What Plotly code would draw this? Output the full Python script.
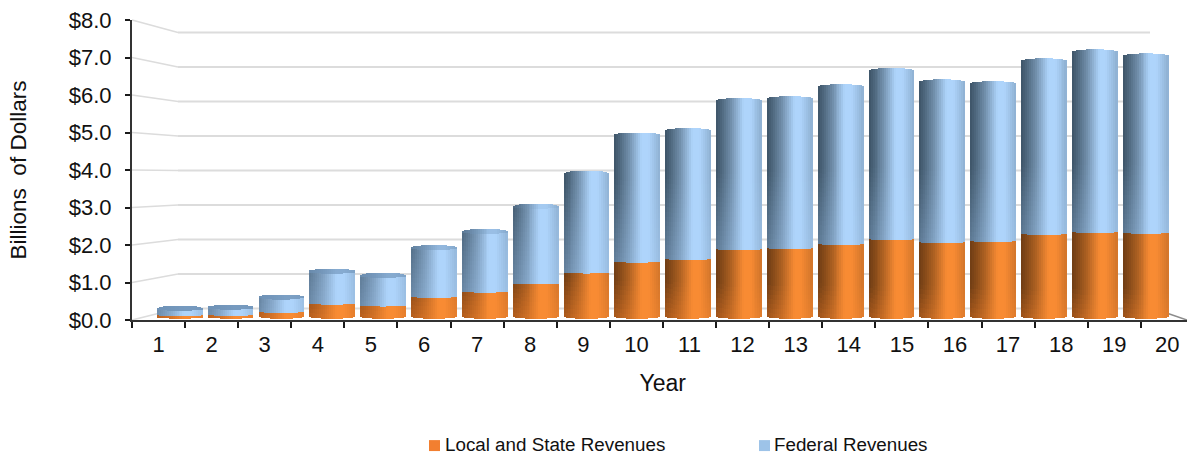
import numpy as np
import plotly.graph_objects as go

years = [str(i) for i in range(1, 21)]
y_ticks = [0, 1, 2, 3, 4, 5, 6, 7, 8]
y_labels = ["$0.0", "$1.0", "$2.0", "$3.0", "$4.0", "$5.0", "$6.0", "$7.0", "$8.0"]
local_state = [.13, .14, .22, .44, .39, .62, .76, .98, 1.27, 1.56, 1.63, 1.89, 1.92, 2.03, 2.16, 2.08, 2.11, 2.30, 2.35, 2.33]
federal = [.25, .27, .46, .93, .87, 1.38, 1.67, 2.12, 2.71, 3.44, 3.49, 4.03, 4.05, 4.26, 4.56, 4.34, 4.26, 4.68, 4.87, 4.78]

W, H = 1187, 456
L, R, T, B = 132, 1187, 19.5, 320.5
def px(x): return (x - L) / (R - L)
def py(y): return (B - y) / (B - T)
FONT = "Liberation Sans, Arial, sans-serif"
INK = "#111111"

# cylinder look, built as thin bar strips
N_STRIP = 23
BAND = 0.13
BAR_W = 0.89
u = (np.arange(N_STRIP) + .5) / N_STRIP
arc = np.sqrt(np.clip(1 - (2 * u - 1) ** 2, 0, 1))
shade = np.interp(u, [0, .12, .32, .6, .75, 1], [0, .15, .45, 1, 1, .72])

def hexcol(c):
    return "#%02x%02x%02x" % tuple(int(round(v)) for v in np.clip(c, 0, 255))

def rgb(h):
    return np.array([int(h[i:i + 2], 16) for i in (1, 3, 5)], float)

def series(lo_vals, hi_vals, light, dark0, dark1, ref, lo_e, hi_e, cap=None):
    xs, ys, bases, offs, cols = [], [], [], [], []
    light, dark0, dark1 = rgb(light), rgb(dark0), rgb(dark1)
    for i, (lo, hi) in enumerate(zip(lo_vals, hi_vals)):
        for j in range(N_STRIP):
            a = lo - lo_e[0] * arc[j] + lo_e[1]
            b = hi - hi_e - hi_e * arc[j] if cap is not None else hi - hi_e * arc[j]
            off = -BAR_W / 2 + j * BAR_W / N_STRIP
            n = max(1, int(np.ceil((b - a) / BAND)))
            edges = np.linspace(a, b, n + 1)
            c = dark0 + (light - dark0) * shade[j]
            for k in range(n):
                d = min(1, .12 + (edges[k] - a) / ref + (hi - lo) / (ref * 3.5))
                dark = dark0 + (dark1 - dark0) * d
                c = dark + (light - dark) * shade[j]
                xs.append(i + 1); bases.append(edges[k]); ys.append(edges[k + 1] - edges[k])
                offs.append(off); cols.append(hexcol(c))
            if cap is not None:
                xs.append(i + 1); bases.append(b); ys.append(2 * hi_e * arc[j] + 1e-4)
                offs.append(off)
                s = max(0, 1 - (hi - lo) / 2.5)
                cols.append(hexcol(rgb(cap) * s + c * (1 - s)))
    return xs, ys, bases, offs, cols

total = [a + b for a, b in zip(local_state, federal)]
ox = series([0] * 20, local_state, "#f88b33", "#c9671f", "#6f3d14", 1.6, (.07, .10), .03)
bx = series(local_state, total, "#aed4fb", "#7595b6", "#3d5467", 3.6, (.03, 0), .07, cap="#6f93b8")

fig = go.Figure()
# main category axis, carries the year labels
fig.add_trace(go.Scatter(x=years, y=[0] * 20, mode="markers", marker=dict(opacity=0, size=1),
                         showlegend=False, hoverinfo="skip", xaxis="x", yaxis="y"))
for name, d in (("Local and State Revenues", ox), ("Federal Revenues", bx)):
    fig.add_trace(go.Bar(name=name, x=d[0], y=d[1], base=d[2], offset=d[3],
                         width=BAR_W / N_STRIP, marker=dict(color=d[4], line=dict(width=0)),
                         showlegend=False, hoverinfo="skip", xaxis="x2", yaxis="y"))

# back wall and floor
shapes = []
WALL_L, WALL_R = 178, 1150
def wall_y(v): return 309 - v * 34.63
def tick_y(v): return B - v * (B - T) / 8
for v in y_ticks:
    col = "#dcdcdc"
    shapes.append(dict(type="line", xref="paper", yref="paper", layer="below",
                       x0=px(WALL_L), x1=px(WALL_R), y0=py(wall_y(v)), y1=py(wall_y(v)),
                       line=dict(color=col, width=2)))
    shapes.append(dict(type="line", xref="paper", yref="paper", layer="below",
                       x0=px(L), x1=px(WALL_L), y0=py(tick_y(v)), y1=py(wall_y(v)),
                       line=dict(color=col, width=1.5)))
shapes.append(dict(type="line", xref="paper", yref="paper", layer="below",
                   x0=px(1168), x1=px(1187), y0=py(314), y1=py(320.5),
                   line=dict(color="#8c8c8c", width=1.5)))
# legend
for x0, c in ((429, "#f27f30"), (759, "#9dc3e8")):
    shapes.append(dict(type="rect", xref="paper", yref="paper", line=dict(width=0), fillcolor=c,
                       x0=px(x0), x1=px(x0 + 11), y0=py(452), y1=py(441)))
annotations = [
    dict(text="Local and State Revenues", x=px(443), y=py(445.5), xref="paper", yref="paper",
         xanchor="left", yanchor="middle", showarrow=False, font=dict(family=FONT, size=18.8, color=INK)),
    dict(text="Federal Revenues", x=px(772), y=py(445.5), xref="paper", yref="paper",
         xanchor="left", yanchor="middle", showarrow=False, font=dict(family=FONT, size=18.8, color=INK)),
]

fig.update_layout(
    width=W, height=H, autosize=False,
    margin=dict(l=L, r=W - R, t=T, b=H - B),
    paper_bgcolor="white", plot_bgcolor="rgba(0,0,0,0)",
    barmode="overlay", bargap=0, showlegend=False,
    shapes=shapes, annotations=annotations,
    font=dict(family=FONT, size=22, color=INK),
    xaxis=dict(type="category", categoryorder="array", categoryarray=years, tickson="boundaries",
               range=[-0.5, 19.37], showgrid=False, zeroline=False, showline=True, linecolor="#333333",
               linewidth=2, ticks="outside", ticklen=6, tickwidth=2, tickcolor="#1a1a1a",
               ticklabelstandoff=4,
               title=dict(text="&nbsp;Year", standoff=18, font=dict(size=23))),
    xaxis2=dict(overlaying="x", anchor="y", range=[0.0559, 20.807], visible=False),
    yaxis=dict(range=[0, 8], tickvals=y_ticks, ticktext=y_labels, showgrid=False, zeroline=False,
               showline=True, linecolor="#333333", linewidth=2, ticks="outside", ticklen=5, tickwidth=2,
               tickcolor="#1a1a1a", ticklabelstandoff=9,
               title=dict(text="Billions  of Dollars", standoff=36, font=dict(size=22.5))),
)
fig.write_html("out.html", post_script="document.body.style.margin='0';",
               config=dict(displayModeBar=False))
